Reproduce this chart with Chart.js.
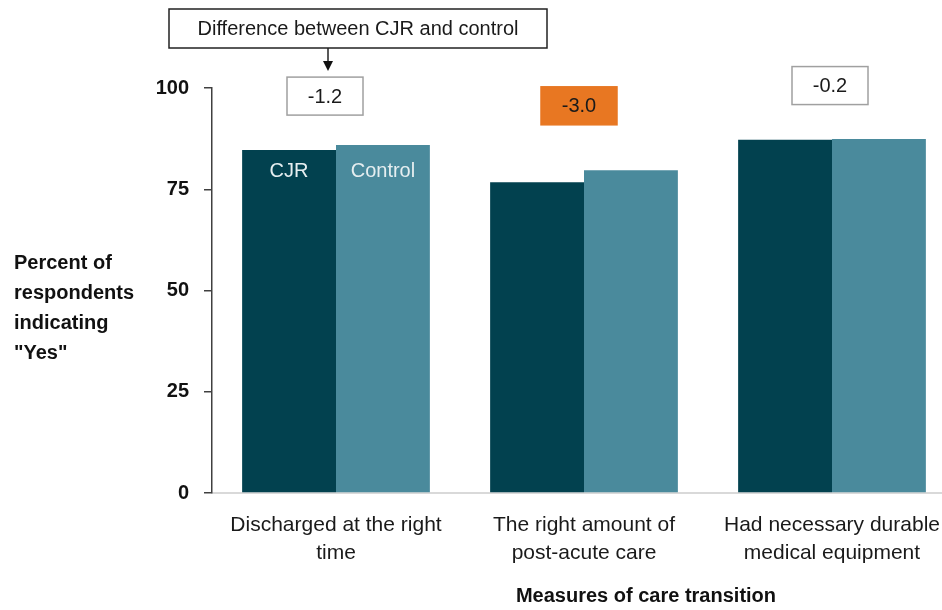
<!DOCTYPE html>
<html>
<head>
<meta charset="utf-8">
<script src="https://cdn.jsdelivr.net/npm/chart.js@4.4.1/dist/chart.umd.min.js"></script>
<style>
  html, body { margin: 0; padding: 0; background: #fff; overflow: hidden; }
  #chart { display: block; }
</style>
</head>
<body>
<canvas id="chart" width="960" height="610"></canvas>
<script>
// data
var categories = [
    ['Discharged at the right', 'time'],
    ['The right amount of', 'post-acute care'],
    ['Had necessary durable', 'medical equipment']
];
var cjrValues = [84.7, 76.7, 87.2];
var controlValues = [85.9, 79.7, 87.4];
var diffLabels = ['-1.2', '-3.0', '-0.2'];
var yTicks = [0, 25, 50, 75, 100];

var FONT = '"Liberation Sans", Arial, sans-serif';
var darkTeal = '#02414F';
var lightTeal = '#4A8A9C';

// where the difference boxes sit (value-axis position, x offset from category center)
var diffBoxes = [
    { yVal: 98.0, dx: -11, fill: '#ffffff', border: '#a0a0a0' },
    { yVal: 95.6, dx: -5, fill: '#E87722', border: '#E87722' },
    { yVal: 100.6, dx: -2, fill: '#ffffff', border: '#a0a0a0' }
];

var annotations = {
    id: 'annotations',
    afterDraw: function(chart) {
        var ctx = chart.ctx;
        var x = chart.scales.x;
        var y = chart.scales.y;
        ctx.save();

        // difference boxes
        ctx.font = '20px ' + FONT;
        ctx.textAlign = 'center';
        ctx.textBaseline = 'middle';
        for (var i = 0; i < diffBoxes.length; i++) {
            var b = diffBoxes[i];
            var cx = x.getPixelForValue(i) + b.dx;
            var cy = y.getPixelForValue(b.yVal);
            ctx.fillStyle = b.fill;
            ctx.fillRect(cx - 38, cy - 19, 76, 38);
            ctx.strokeStyle = b.border;
            ctx.lineWidth = 1.5;
            ctx.strokeRect(cx - 38, cy - 19, 76, 38);
            ctx.fillStyle = '#1a1a1a';
            ctx.fillText(diffLabels[i], cx, cy + 1);
        }

        // header box with arrow
        var c0 = x.getPixelForValue(0);
        ctx.fillStyle = '#fff';
        ctx.strokeStyle = '#222';
        ctx.lineWidth = 1.5;
        ctx.strokeRect(c0 - 167, 9, 378, 39);
        ctx.fillStyle = '#1a1a1a';
        ctx.font = '20px ' + FONT;
        ctx.fillText('Difference between CJR and control', c0 + 22, 29);

        var ax = c0 - 8;
        ctx.beginPath();
        ctx.moveTo(ax, 48);
        ctx.lineTo(ax, 62);
        ctx.stroke();
        ctx.beginPath();
        ctx.moveTo(ax - 5, 61);
        ctx.lineTo(ax + 5, 61);
        ctx.lineTo(ax, 71);
        ctx.closePath();
        ctx.fillStyle = '#111';
        ctx.fill();

        // series names inside the first bars
        var m0 = chart.getDatasetMeta(0).data[0];
        var m1 = chart.getDatasetMeta(1).data[0];
        var ly = y.getPixelForValue(79.3);
        ctx.fillStyle = '#e6eef0';
        ctx.font = '20px ' + FONT;
        ctx.fillText('CJR', m0.x, ly);
        ctx.fillText('Control', m1.x, ly);

        // y-axis title, horizontal lines
        ctx.fillStyle = '#111';
        ctx.font = 'bold 20px ' + FONT;
        ctx.textAlign = 'left';
        var yl = ['Percent of', 'respondents', 'indicating', '"Yes"'];
        for (var k = 0; k < yl.length; k++) {
            ctx.fillText(yl[k], 14, 263 + k * 30);
        }

        // x-axis title
        ctx.textAlign = 'center';
        ctx.fillText('Measures of care transition', 646, 596);
        ctx.restore();
    }
};

new Chart(document.getElementById('chart').getContext('2d'), {
    type: 'bar',
    data: {
        labels: categories,
        datasets: [{
            label: 'CJR',
            data: cjrValues,
            backgroundColor: darkTeal,
            borderWidth: 0,
            categoryPercentage: 0.757,
            barPercentage: 1.0
        }, {
            label: 'Control',
            data: controlValues,
            backgroundColor: lightTeal,
            borderWidth: 0,
            categoryPercentage: 0.757,
            barPercentage: 1.0
        }]
    },
    options: {
        responsive: false,
        animation: false,
        layout: { padding: { left: 0, right: 4, top: 88, bottom: 0 } },
        plugins: {
            legend: { display: false },
            tooltip: { enabled: false },
            title: { display: false }
        },
        scales: {
            x: {
                grid: { display: false, drawTicks: false },
                border: { display: true, color: '#d9d9d9', width: 2 },
                ticks: {
                    color: '#1a1a1a',
                    font: { family: FONT, size: 21, lineHeight: 1.3 },
                    padding: 19,
                    maxRotation: 0,
                    autoSkip: false
                },
                afterFit: function(scale) { scale.height = 117; }
            },
            y: {
                min: 0,
                max: 100,
                afterBuildTicks: function(scale) {
                    scale.ticks = yTicks.map(function(v) { return { value: v }; });
                },
                grid: { drawOnChartArea: false, tickLength: 8, color: '#404040', lineWidth: 1.5 },
                border: { display: true, color: '#404040', width: 1.5 },
                ticks: {
                    color: '#111',
                    font: { family: FONT, size: 20, weight: 'bold' },
                    padding: 15
                },
                afterFit: function(scale) { scale.width = 212; }
            }
        }
    },
    plugins: [annotations]
});
</script>
</body>
</html>
